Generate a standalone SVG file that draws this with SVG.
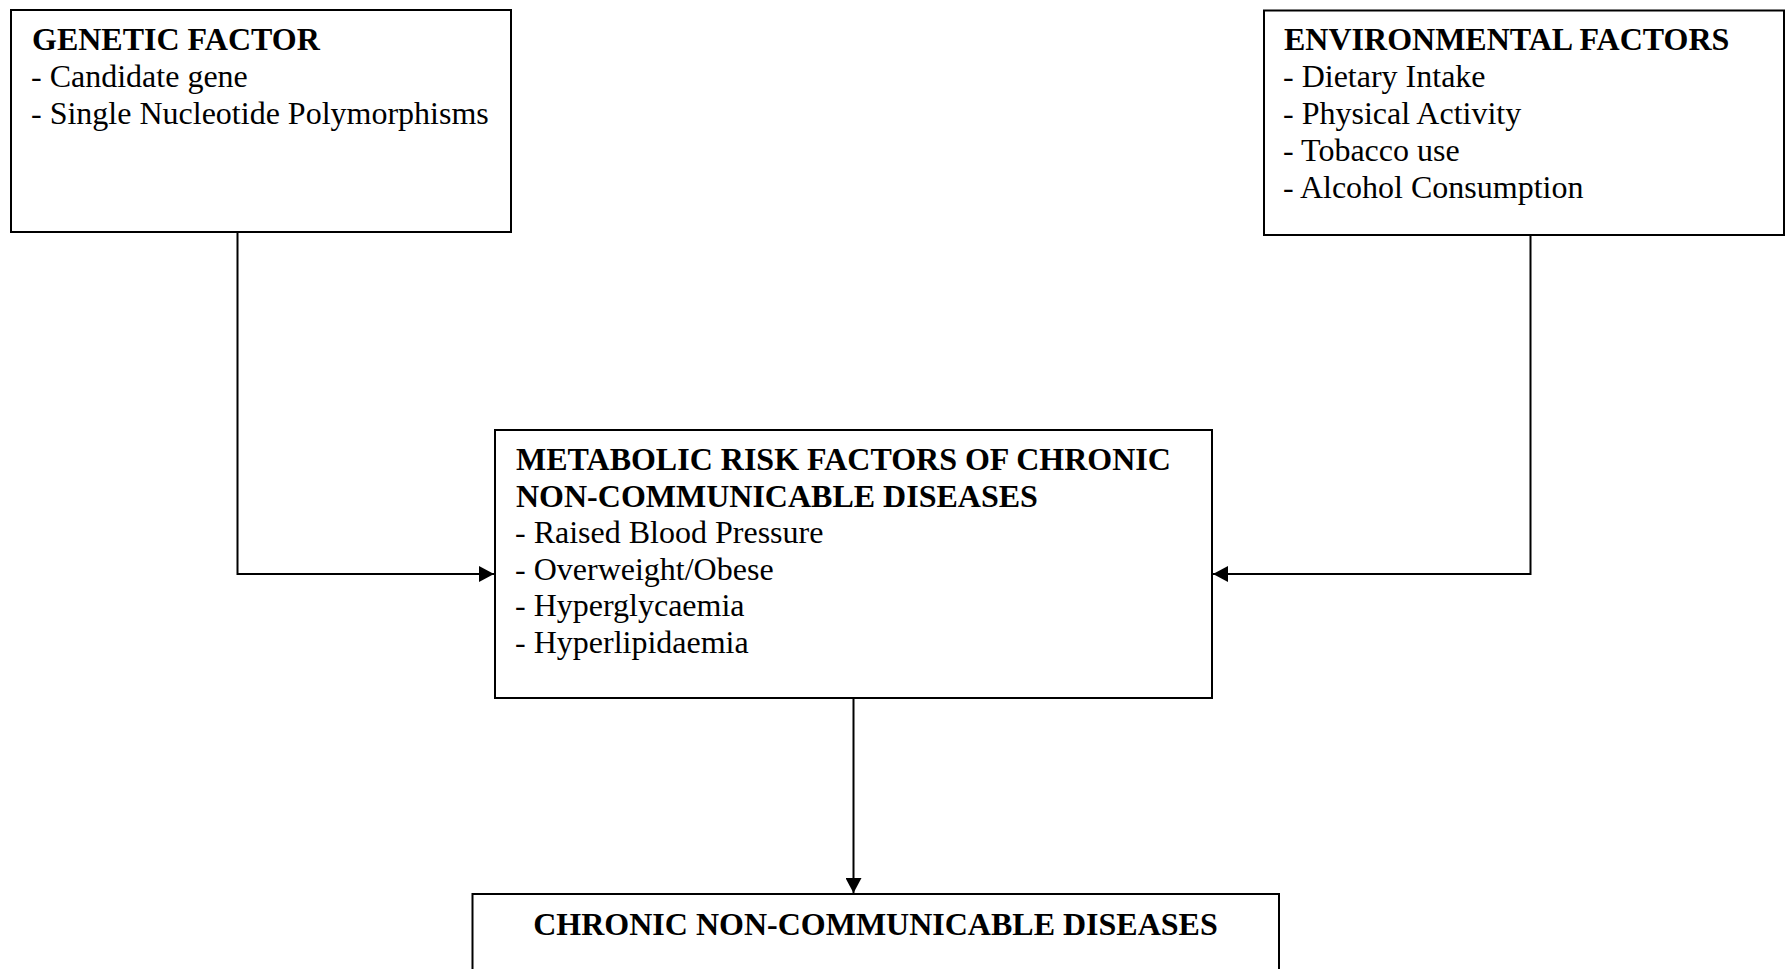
<svg xmlns="http://www.w3.org/2000/svg" width="1792" height="969" viewBox="0 0 1792 969">
<defs>
<style>
.box{fill:#fff;stroke:#000;stroke-width:2}
.t{font-family:"Liberation Serif","Times New Roman",serif;font-size:32px;fill:#000}
.b{font-weight:bold}
.c{fill:none;stroke:#000;stroke-width:2}
</style>
<marker id="arr" markerWidth="16" markerHeight="16" refX="15" refY="8" orient="auto" markerUnits="userSpaceOnUse">
<path d="M0,0 L15,8 L0,16 Z" fill="#000"/>
</marker>
</defs>
<rect width="1792" height="969" fill="#fff"/>
<g id="connectors">
<path class="c" d="M237.5,232 L237.5,574 L494,574" marker-end="url(#arr)"/>
<path class="c" d="M1530.5,235 L1530.5,574 L1213,574" marker-end="url(#arr)"/>
<path class="c" d="M853.5,698 L853.5,893" marker-end="url(#arr)"/>
</g>
<g id="genetic">
<rect class="box" x="11" y="10" width="500" height="222"/>
<text class="t b" x="32" y="50">GENETIC FACTOR</text>
<text class="t" x="31" y="87">- Candidate gene</text>
<text class="t" x="31" y="124">- Single Nucleotide Polymorphisms</text>
</g>
<g id="environmental">
<rect class="box" x="1264" y="10.5" width="520" height="224.5"/>
<text class="t b" x="1284" y="50">ENVIRONMENTAL FACTORS</text>
<text class="t" x="1283" y="87">- Dietary Intake</text>
<text class="t" x="1283" y="124">- Physical Activity</text>
<text class="t" x="1283" y="161">- Tobacco use</text>
<text class="t" x="1283" y="198">- Alcohol Consumption</text>
</g>
<g id="metabolic">
<rect class="box" x="495" y="430" width="717" height="268"/>
<text class="t b" x="516" y="470">METABOLIC RISK FACTORS OF CHRONIC</text>
<text class="t b" x="516" y="506.6">NON-COMMUNICABLE DISEASES</text>
<text class="t" x="515" y="543.2">- Raised Blood Pressure</text>
<text class="t" x="515" y="579.8">- Overweight/Obese</text>
<text class="t" x="515" y="616.4">- Hyperglycaemia</text>
<text class="t" x="515" y="653">- Hyperlipidaemia</text>
</g>
<g id="chronic">
<rect class="box" x="472.5" y="894" width="806.5" height="90"/>
<text class="t b" x="875.5" y="935" text-anchor="middle">CHRONIC NON-COMMUNICABLE DISEASES</text>
</g>
</svg>
